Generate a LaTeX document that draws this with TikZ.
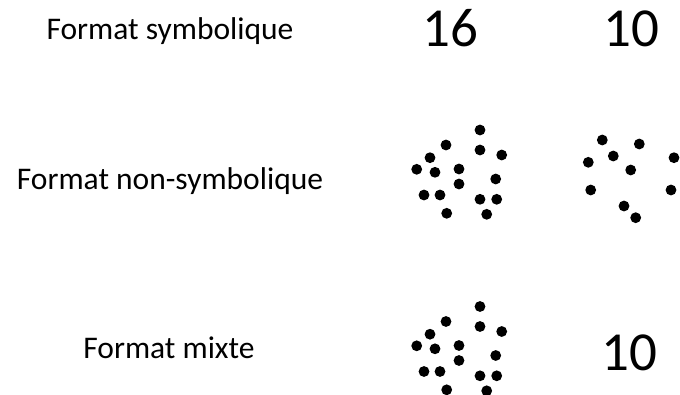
\documentclass[tikz,border=0pt]{standalone}
\usepackage{fontspec}
\setmainfont{Carlito}
\begin{document}
\begin{tikzpicture}[x=1pt,y=-1pt,
  lbl/.style={anchor=base,inner sep=0pt,font=\fontsize{31.5}{36}\selectfont},
  num/.style={anchor=base,inner sep=0pt,font=\fontsize{55}{60}\selectfont},
  blob/.style={fill=black}]
\useasboundingbox (0,0) rectangle (680,394);
\node[lbl] (l1) at (170,39.3) {Format symbolique};
\node[lbl] (l2) at (170,189.3) {Format non-symbolique};
\node[lbl] (l3) at (169,358) {Format mixte};
\node[num] (n1) at (450,46.7) {16};
\node[num] (n2) at (631,46.7) {10};
\node[num] (n3) at (629,370) {10};
% cluster of 16 dots
\foreach \x/\y in {480/130,446/145,480/150,501.7/155,430/157.7,416.7/169.3,435/172.3,459/169,495.7/179,459/184,424/195,440/195,480/199.3,496.7/199.3,446.7/213.3,486.7/214.3}{
  \fill[blob] (\x,\y) circle[radius=5.4pt];
  \fill[blob] (\x,\y+176.5) circle[radius=5.4pt];
}
% cluster of 10 dots
\foreach \x/\y in {602.3/140,639.3/144,613.3/156,588.3/162.3,674/157.7,630.7/170,590.7/190,671/190,624/206,635.7/217.7}{
  \fill[blob] (\x,\y) circle[radius=5.4pt];
}
\end{tikzpicture}
\end{document}
